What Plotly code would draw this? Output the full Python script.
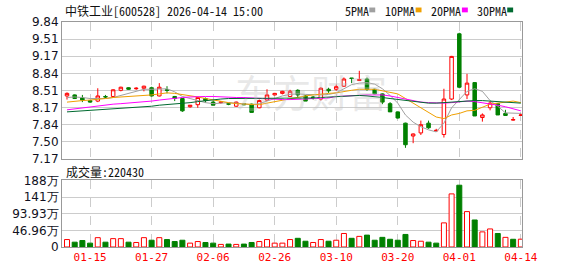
import plotly.graph_objects as go
import numpy as np

# ---------------- data ----------------
dates = ["01-12","01-13","01-14","01-15","01-16","01-19","01-20","01-21","01-22","01-23",
         "01-26","01-27","01-28","01-29","01-30","02-02","02-03","02-04","02-05","02-06",
         "02-09","02-10","02-11","02-12","02-13","02-24","02-25","02-26","02-27","03-02",
         "03-03","03-04","03-05","03-06","03-09","03-10","03-11","03-12","03-13","03-16",
         "03-17","03-18","03-19","03-20","03-23","03-24","03-25","03-26","03-27","03-30",
         "03-31","04-01","04-02","04-03","04-07","04-08","04-09","04-10","04-13","04-14"]

open_ = [8.40,8.42,8.36,8.31,8.30,8.39,8.39,8.51,8.56,8.54,
         8.55,8.56,8.40,8.52,8.39,8.35,8.19,8.23,8.35,8.28,
         8.27,8.25,8.20,8.25,8.24,8.17,8.32,8.42,8.45,8.39,
         8.51,8.40,8.38,8.34,8.53,8.53,8.59,8.75,8.70,8.73,
         8.53,8.44,8.25,8.09,7.87,7.62,7.68,7.87,7.72,7.65,
         8.34,9.61,8.42,8.66,7.98,8.17,8.25,8.06,7.93,8.02]
high = [8.47,8.43,8.42,8.32,8.55,8.42,8.53,8.58,8.57,8.57,
        8.60,8.58,8.65,8.59,8.40,8.36,8.22,8.38,8.37,8.31,
        8.30,8.26,8.29,8.26,8.25,8.33,8.53,8.46,8.50,8.52,
        8.53,8.42,8.40,8.57,8.56,8.62,8.76,8.75,8.89,8.76,
        8.54,8.45,8.28,8.10,7.88,7.67,7.92,7.92,7.76,8.54,
        9.18,9.63,8.83,8.67,8.06,8.30,8.26,8.13,7.99,8.06]
low = [8.33,8.34,8.28,8.27,8.28,8.36,8.38,8.49,8.52,8.52,
       8.49,8.39,8.39,8.45,8.30,8.09,8.17,8.17,8.27,8.22,
       8.25,8.22,8.19,8.22,8.08,8.16,8.31,8.41,8.43,8.38,
       8.37,8.30,8.33,8.31,8.46,8.50,8.58,8.65,8.69,8.50,
       8.43,8.24,8.09,7.96,7.39,7.48,7.64,7.76,7.70,7.59,
       8.32,8.55,8.34,8.01,7.90,8.12,8.03,8.02,7.92,8.01]
close = [8.45,8.35,8.32,8.28,8.40,8.38,8.52,8.57,8.53,8.55,
         8.59,8.40,8.57,8.51,8.35,8.11,8.22,8.37,8.31,8.22,
         8.28,8.24,8.28,8.23,8.08,8.31,8.42,8.45,8.49,8.49,
         8.42,8.30,8.35,8.55,8.50,8.58,8.73,8.74,8.72,8.53,
         8.44,8.28,8.09,7.97,7.45,7.66,7.84,7.78,7.73,8.34,
         9.17,8.57,8.65,8.01,8.03,8.26,8.03,8.02,7.94,8.03]

ma5 = [8.37,8.38,8.37,8.35,8.35,8.35,8.37,8.41,8.46,8.50,8.53,8.53,8.54,8.54,
       8.48,8.39,8.35,8.31,8.27,8.25,8.26,8.27,8.26,8.25,8.23,8.25,8.30,8.36,8.40,8.43,
       8.44,8.43,8.42,8.42,8.43,8.46,8.54,8.62,8.65,8.66,8.63,8.54,8.41,8.26,8.03,7.89,
       7.80,7.74,7.70,7.87,8.17,8.32,8.49,8.54,8.49,8.31,8.20,8.07,8.06,8.06]
ma10 = [8.28,8.30,8.31,8.32,8.33,8.35,8.37,8.38,8.39,8.40,8.40,8.42,8.44,8.46,
        8.45,8.43,8.41,8.38,8.35,8.32,8.29,8.27,8.25,8.24,8.23,8.23,8.26,8.29,8.32,8.35,
        8.37,8.40,8.42,8.44,8.45,8.46,8.49,8.51,8.53,8.53,8.53,8.50,8.47,8.44,8.35,8.26,
        8.17,8.08,7.99,7.96,8.03,8.06,8.11,8.12,8.18,8.24,8.26,8.28,8.30,8.27]
ma20 = [8.13,8.15,8.17,8.18,8.20,8.22,8.24,8.25,8.26,8.27,8.28,8.30,8.32,8.34,
        8.35,8.37,8.38,8.39,8.39,8.39,8.38,8.37,8.37,8.37,8.36,8.35,8.34,8.33,8.33,8.33,
        8.33,8.34,8.35,8.36,8.36,8.39,8.40,8.41,8.42,8.42,8.42,8.42,8.40,8.37,8.33,8.30,
        8.28,8.27,8.26,8.26,8.27,8.28,8.30,8.29,8.27,8.25,8.22,8.19,8.15,8.11]
ma30 = [8.09,8.10,8.11,8.12,8.13,8.13,8.14,8.15,8.16,8.17,8.19,8.20,8.22,8.23,
        8.25,8.26,8.27,8.29,8.31,8.33,8.34,8.35,8.35,8.35,8.35,8.35,8.35,8.35,8.35,8.35,
        8.35,8.36,8.36,8.37,8.38,8.39,8.39,8.40,8.41,8.40,8.39,8.37,8.35,8.33,8.31,8.29,
        8.28,8.26,8.26,8.27,8.28,8.29,8.31,8.31,8.31,8.30,8.30,8.28,8.27,8.26]

# volume in 万 and the up/down colour the volume bars carry in the reference
volume = [21.0,13.6,18.2,10.9,26.3,13.6,23.6,23.6,13.6,12.7,
          26.3,19.1,26.3,21.0,15.4,19.1,10.9,15.4,12.7,10.9,
          7.3,8.2,7.3,8.2,12.7,15.4,21.0,10.9,10.9,21.0,
          24.5,16.3,12.7,21.0,16.3,19.1,38.1,24.5,29.9,33.5,
          19.1,27.2,21.8,19.1,35.4,18.2,16.3,13.6,10.9,68.0,
          149.7,174.2,99.8,76.2,42.6,50.9,38.1,27.2,21.8,22.043]
vol_up = [1,0,0,0,1,0,1,1,0,1,
          1,0,1,0,0,0,1,1,0,0,
          1,0,1,0,0,1,1,1,1,1,
          0,0,1,1,0,1,1,0,1,0,
          0,0,0,0,0,1,1,0,0,1,
          1,0,1,0,1,1,0,1,0,1]

price_tick_labels = ["7.17","7.50","7.84","8.17","8.51","8.84","9.17","9.51","9.84"]
vol_tick_labels = ["0","46.96万","93.93万","141万","188万"]
x_tick_labels = ["01-15","01-27","02-06","02-26","03-10","03-20","04-01","04-14"]
title_text = "中铁工业[600528] 2026-04-14 15:00"
vol_text = "成交量:220430"
legend_names = ["5PMA","10PMA","20PMA","30PMA"]

# ---------------- style ----------------
RED = "#ff0000"
GREEN = "#008000"
MA_COLORS = ["#a0a0a0", "#f0a000", "#ff00ff", "#006a30"]
W, H = 578, 276
ML, MR, MT, MB = 55, 56, 22, 21
PW, PH = W - ML - MR, H - MT - MB

def px_x(px):
    return (px - ML) / PW

def px_y(py):
    return (H - MB - py) / PH

p_min, p_max = 7.17, 9.84
v_max = 187.84

fig = go.Figure()

fig.add_trace(go.Candlestick(
    x=dates, open=open_, high=high, low=low, close=close,
    increasing=dict(line=dict(color=RED, width=1), fillcolor="#ffffff"),
    decreasing=dict(line=dict(color=GREEN, width=1), fillcolor=GREEN),
    whiskerwidth=0, xaxis="x", yaxis="y", showlegend=False, hoverinfo="skip"))

for name, vals, col in zip(legend_names, [ma5, ma10, ma20, ma30], MA_COLORS):
    fig.add_trace(go.Scatter(x=dates, y=vals, mode="lines", name=name,
                             line=dict(color=col, width=1), xaxis="x", yaxis="y",
                             showlegend=False, hoverinfo="skip"))

fig.add_trace(go.Bar(
    x=dates, y=volume, xaxis="x2", yaxis="y2",
    marker=dict(color=["#ffffff" if u else GREEN for u in vol_up],
                line=dict(color=[RED if u else GREEN for u in vol_up], width=1)),
    showlegend=False, hoverinfo="skip"))

xcommon = dict(type="category", categoryorder="array", categoryarray=dates,
               range=[-0.65, len(dates) - 0.85],
               tickmode="array", tickvals=x_tick_labels,
               showgrid=True, gridcolor="#cccccc", griddash="dash", gridwidth=1,
               showline=True, linecolor="#999999", linewidth=1, mirror=True,
               ticks="", zeroline=False, fixedrange=True)

fig.update_layout(
    width=W, height=H,
    margin=dict(l=ML, r=MR, t=MT, b=MB, pad=0),
    paper_bgcolor="#ffffff", plot_bgcolor="#ffffff",
    showlegend=False, bargap=0.35, boxgap=0.35,
    xaxis=dict(**xcommon, domain=[0, 1], anchor="y", showticklabels=False,
               rangeslider=dict(visible=False)),
    xaxis2=dict(**xcommon, domain=[0, 1], anchor="y2", matches="x",
                showticklabels=True, ticktext=x_tick_labels,
                tickfont=dict(family="DejaVu Sans Mono", size=11, color=RED)),
    yaxis=dict(domain=[px_y(164), 1], range=[p_min, p_max],
               tickmode="array", tickvals=list(np.linspace(p_min, p_max, 9)),
               ticktext=price_tick_labels,
               tickfont=dict(family="DejaVu Sans", size=12, color="#111122"),
               showgrid=True, gridcolor="#cccccc", gridwidth=1,
               showline=True, linecolor="#999999", linewidth=1, mirror=True,
               zeroline=False, ticks="", fixedrange=True),
    yaxis2=dict(domain=[0, px_y(186)], range=[0, v_max],
                tickmode="array", tickvals=list(np.linspace(0, v_max, 5)),
                ticktext=vol_tick_labels,
                tickfont=dict(family="DejaVu Sans", size=12, color="#111122"),
                showgrid=True, gridcolor="#cccccc", gridwidth=1,
                showline=True, linecolor="#999999", linewidth=1, mirror=True,
                zeroline=False, ticks="", fixedrange=True),
)

CJK = "Noto Sans Mono CJK SC, Noto Sans CJK SC, sans-serif"
annotations = [
    dict(text=title_text, x=px_x(56), y=px_y(10), xref="paper", yref="paper",
         xanchor="left", yanchor="middle", showarrow=False,
         font=dict(family=CJK, size=12, color="#111111")),
    dict(text=vol_text, x=px_x(57), y=px_y(177), xref="paper", yref="paper",
         xanchor="left", yanchor="middle", showarrow=False,
         font=dict(family=CJK, size=12, color="#111111")),
    dict(text="东方财富", x=px_x(308), y=px_y(93), xref="paper", yref="paper",
         xanchor="center", yanchor="middle", showarrow=False,
         font=dict(family="Noto Sans CJK SC", size=38, color="rgba(190,190,190,0.35)")),
]
shapes = []
leg_x = [340, 381, 428, 474]
for name, col, lx in zip(legend_names, MA_COLORS, leg_x):
    annotations.append(dict(text=name, x=px_x(lx), y=px_y(10), xref="paper", yref="paper",
                            xanchor="left", yanchor="middle", showarrow=False,
                            font=dict(family=CJK, size=12, color="#111111")))
    sq = lx + 6 * len(name) + 3
    shapes.append(dict(type="rect", xref="paper", yref="paper",
                       x0=px_x(sq), x1=px_x(sq + 6), y0=px_y(12), y1=px_y(7),
                       fillcolor=col, line=dict(width=0)))
fig.update_layout(annotations=annotations, shapes=shapes)

fig.write_html("out.html", include_plotlyjs=True, full_html=True,
               config=dict(displayModeBar=False, staticPlot=True))
